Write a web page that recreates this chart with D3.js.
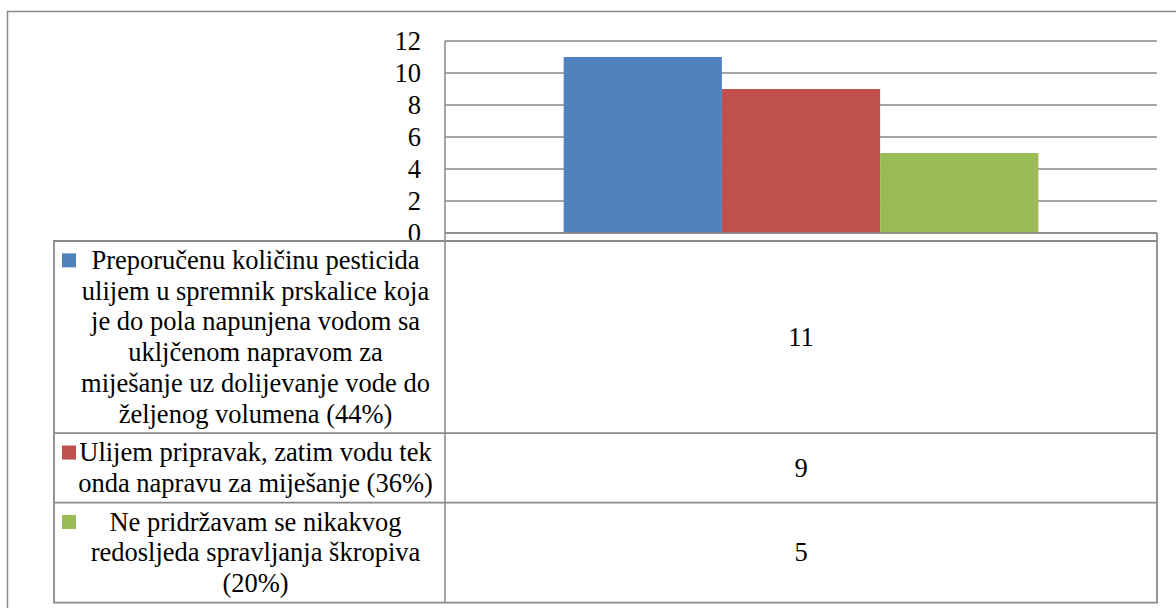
<!DOCTYPE html>
<html>
<head>
<meta charset="utf-8">
<script src="https://cdn.jsdelivr.net/npm/d3@7"></script>
<style>
  html, body { margin: 0; padding: 0; background: #fff; }
</style>
</head>
<body>
<script>
// data
const series = ["s1", "s2", "s3"]
const values = [11, 9, 5]
const colors = ["#4F81BD", "#C0504D", "#9BBB59"]
const legendLines = [
  ["Preporučenu količinu pesticida", "ulijem u spremnik prskalice koja", "je do pola napunjena vodom sa", "ukljčenom napravom za", "miješanje uz dolijevanje vode do", "željenog volumena (44%)"],
  ["Ulijem pripravak, zatim vodu tek", "onda napravu za miješanje (36%)"],
  ["Ne pridržavam se nikakvog", "redosljeda spravljanja škropiva", "(20%)"]
]
const yTicks = [0, 2, 4, 6, 8, 10, 12]

const W = 1176, H = 608
const grey = "#898989"
const serif = "'Liberation Serif', serif"
const fontSize = 26.5
const lineH = 30.7

const svg = d3.select("body").append("svg")
    .attr("width", W)
    .attr("height", H)

// outer chart border (top + left, right/bottom fall outside the picture)
svg.append("path")
    .attr("d", `M7.5,${H} V11.5 H${W}`)
    .attr("fill", "none")
    .attr("stroke", grey)
    .attr("stroke-width", 1.5)

const plotL = 445, plotR = 1157, plotT = 41, plotB = 233
const tableL = 54, tableT = 241

const y = d3.scaleLinear().domain([0, 12]).range([plotB, plotT])
const x = d3.scaleBand().domain(series).range([plotL, plotR])
    .paddingInner(0).paddingOuter(0.75)

// gridlines
svg.append("g")
    .selectAll("line")
    .data(yTicks)
    .enter()
    .append("line")
    .attr("x1", plotL)
    .attr("x2", plotR)
    .attr("y1", d => y(d))
    .attr("y2", d => y(d))
    .attr("stroke", grey)
    .attr("stroke-width", 1.5)

// tick labels
svg.append("g")
    .selectAll("text")
    .data(yTicks)
    .enter()
    .append("text")
    .attr("x", 421)
    .attr("y", d => y(d))
    .attr("dy", "0.33em")
    .attr("text-anchor", "end")
    .attr("font-family", serif)
    .attr("font-size", fontSize)
    .text(d => d)

// bars
svg.append("g")
    .selectAll("rect")
    .data(values)
    .enter()
    .append("rect")
    .attr("x", (d, i) => x(series[i]))
    .attr("width", x.bandwidth())
    .attr("y", d => y(d))
    .attr("height", d => y(0) - y(d))
    .attr("fill", (d, i) => colors[i])

// zero line again on top of bars
svg.append("line")
    .attr("x1", plotL).attr("x2", plotR)
    .attr("y1", y(0)).attr("y2", y(0))
    .attr("stroke", grey).attr("stroke-width", 1.5)

// data table
const rowH = legendLines.map(l => l.length * lineH + 8)
const rowTops = []
let acc = tableT
rowH.forEach(h => { rowTops.push(acc); acc += h })
const tableB = acc

// value axis line, continues as table column divider
svg.append("line")
    .attr("x1", plotL).attr("x2", plotL)
    .attr("y1", plotT).attr("y2", tableB)
    .attr("stroke", grey).attr("stroke-width", 1.5)

svg.append("path")
    .attr("d", `M${plotR},${plotB} V${tableB} H${tableL} V${tableT} H${plotR}`)
    .attr("fill", "none")
    .attr("stroke", grey)
    .attr("stroke-width", 1.8)

const rows = svg.append("g")
    .selectAll("g")
    .data(legendLines)
    .enter()
    .append("g")

rows.filter((d, i) => i > 0)
    .append("line")
    .attr("x1", tableL).attr("x2", plotR)
    .attr("y1", (d, i) => rowTops[i + 1])
    .attr("y2", (d, i) => rowTops[i + 1])
    .attr("stroke", grey)
    .attr("stroke-width", 1.8)

rows.append("rect")
    .attr("x", 62)
    .attr("y", (d, i) => rowTops[i] + 4 + lineH / 2 - 7)
    .attr("width", 14)
    .attr("height", 14)
    .attr("fill", (d, i) => colors[i])

rows.each(function (lines, i) {
    d3.select(this).selectAll("text.lg")
        .data(lines)
        .enter()
        .append("text")
        .attr("class", "lg")
        .attr("x", 255.5)
        .attr("y", (t, j) => rowTops[i] + 4 + lineH / 2 + j * lineH)
        .attr("dy", "0.33em")
        .attr("text-anchor", "middle")
        .attr("font-family", serif)
        .attr("font-size", fontSize)
        .text(t => t)
})

rows.append("text")
    .attr("x", (plotL + plotR) / 2)
    .attr("y", (d, i) => rowTops[i] + rowH[i] / 2)
    .attr("dy", "0.33em")
    .attr("text-anchor", "middle")
    .attr("font-family", serif)
    .attr("font-size", fontSize)
    .text((d, i) => values[i])
</script>
</body>
</html>
